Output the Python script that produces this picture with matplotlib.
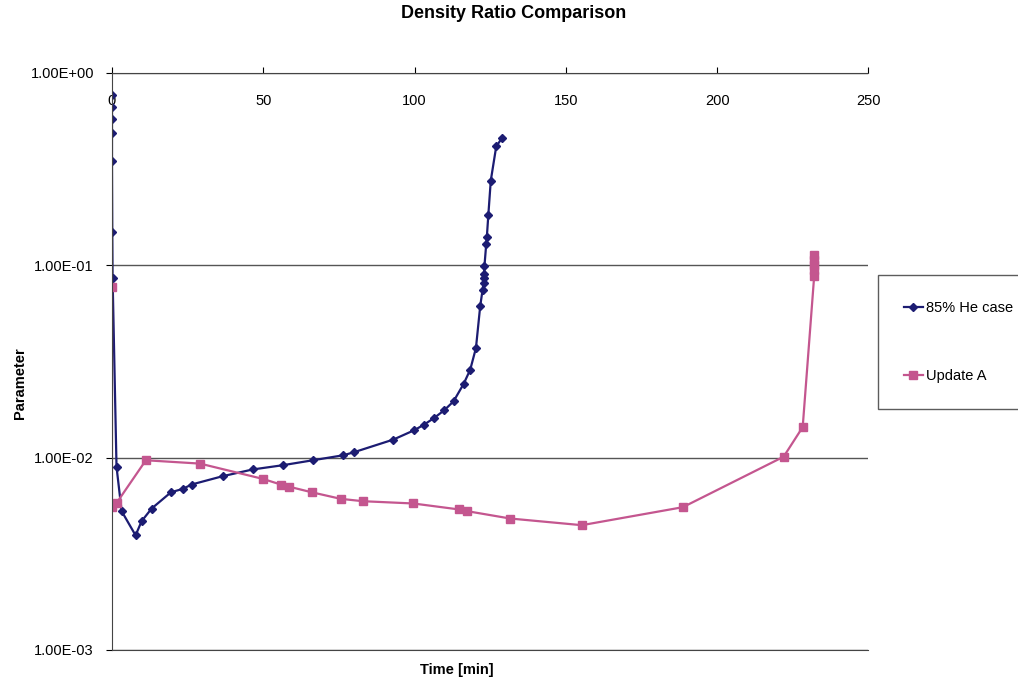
import matplotlib
matplotlib.use("Agg")
import matplotlib.pyplot as plt
from matplotlib.ticker import FixedLocator, NullLocator

plt.rcParams['font.family'] = ['Liberation Sans', 'DejaVu Sans']

# 85% He case
he_t = [0.0, 0.0, 0.0, 0.0, 0.0, 0.1, 0.2, 1.5, 3.2, 7.8, 9.8, 13.1, 19.5, 23.4,
        26.3, 36.6, 46.5, 56.4, 66.4, 76.5, 80.0, 93.0, 99.9, 103.2, 106.5,
        109.8, 112.9, 116.2, 118.4, 120.3, 121.7, 122.5, 122.8, 122.9, 123.0,
        123.1, 123.7, 123.9, 124.4, 125.2, 127.0, 128.9]
he_v = [0.77, 0.668, 0.574, 0.486, 0.346, 0.149, 0.0859, 0.00895, 0.00526,
        0.00394, 0.00467, 0.00543, 0.0066, 0.00687, 0.00724, 0.0080, 0.00867,
        0.00912, 0.00968, 0.01028, 0.01066, 0.0124, 0.01387, 0.01484, 0.01607,
        0.0176, 0.0196, 0.0241, 0.0286, 0.0371, 0.0611, 0.0746, 0.0807,
        0.0859, 0.090, 0.0986, 0.129, 0.140, 0.183, 0.275, 0.414, 0.458]

# Update A
upd_t = [0.0, 0.0, 1.5, 11.2, 29.1, 49.8, 55.8, 58.6, 66.0, 75.6, 82.9, 99.6,
         114.8, 117.5, 131.6, 155.3, 188.7, 222.0, 228.3, 232.1, 232.1, 232.1,
         232.1, 232.1]
upd_v = [0.0767, 0.0055, 0.0058, 0.00968, 0.0093, 0.00775, 0.00724, 0.00705,
         0.0066, 0.0061, 0.00593, 0.00577, 0.00537, 0.00526, 0.00482, 0.00445,
         0.00552, 0.0101, 0.0144, 0.088, 0.094, 0.100, 0.106, 0.113]

x_ticks = [0, 50, 100, 150, 200, 250]
y_ticks = [1e-3, 1e-2, 1e-1, 1e0]
y_labels = ['1.00E-03', '1.00E-02', '1.00E-01', '1.00E+00']

blue = '#1c1c72'
pink = '#c4568f'

fig = plt.figure(figsize=(10.18, 6.87), dpi=100)
ax = fig.add_axes([0.110, 0.054, 0.743, 0.840])

ax.plot(he_t, he_v, color=blue, marker='D', markersize=4.5, linewidth=1.6,
        label='85% He case')
ax.plot(upd_t, upd_v, color=pink, marker='s', markersize=6, linewidth=1.6,
        label='Update A')

ax.set_yscale('log')
ax.set_ylim(1e-3, 1)
ax.set_xlim(0, 250)
ax.yaxis.set_major_locator(FixedLocator(y_ticks))
ax.yaxis.set_minor_locator(NullLocator())
ax.set_yticklabels(y_labels)
ax.set_xticks(x_ticks)

ax.grid(axis='y', color='#555555', linewidth=1.0)
ax.set_axisbelow(True)
ax.spines['right'].set_visible(False)
for s in ['top', 'left', 'bottom']:
    ax.spines[s].set_color('#444444')

ax.tick_params(axis='x', top=True, bottom=False, labeltop=True,
               labelbottom=False, direction='out', length=4, pad=-29,
               labelsize=10.5)
ax.tick_params(axis='y', direction='out', length=4, pad=9, labelsize=10.5)

fig.suptitle('Density Ratio Comparison', x=0.505, y=0.992, fontsize=13,
             fontweight='bold')
ax.set_xlabel('Time [min]', fontsize=10.5, fontweight='bold')
ax.xaxis.set_label_coords(0.456, -0.022)
ax.set_ylabel('Parameter', fontsize=10.5, fontweight='bold')
ax.yaxis.set_label_coords(-0.112, 0.463)

leg = fig.legend(loc='upper left', bbox_to_anchor=(0.862, 0.60),
                 frameon=True, fancybox=False, edgecolor='#333333',
                 fontsize=10.5, labelspacing=3.7, borderpad=1.8,
                 handlelength=1.3, handletextpad=0.2, borderaxespad=0)
leg.get_frame().set_linewidth(1.0)

fig.savefig('out.png', dpi=100)
